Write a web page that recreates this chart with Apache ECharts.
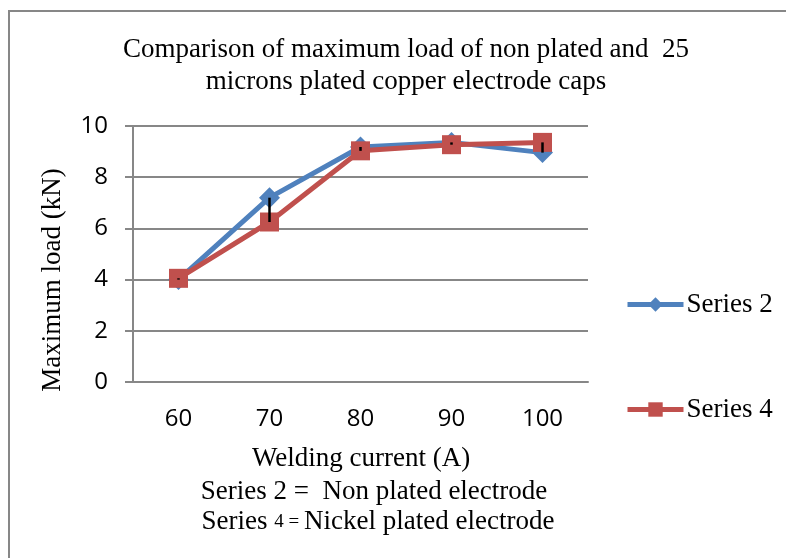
<!DOCTYPE html>
<html>
<head>
<meta charset="utf-8">
<script src="https://cdn.jsdelivr.net/npm/echarts@6/dist/echarts.min.js"></script>
<style>html,body{margin:0;padding:0;background:#fff;}#c{width:786px;height:558px;}</style>
</head>
<body>
<div id="c"></div>
<script>
const categories = ['60', '70', '80', '90', '100'];
const series2 = [4.0, 7.2, 9.18, 9.36, 8.96];
const series4 = [4.05, 6.25, 9.03, 9.27, 9.36];
const yTicks = [0, 2, 4, 6, 8, 10];

const chart = echarts.init(document.getElementById('c'));
const serif = 'Liberation Serif';
const sans = 'Open Sans';
const hiLo = categories.map((c, i) => [i, Math.min(series2[i], series4[i]), Math.max(series2[i], series4[i])]);

const legendCommon = {
  orient: 'vertical', itemWidth: 56, itemHeight: 18, itemGap: 4,
  lineStyle: { width: 5 },
  textStyle: { fontFamily: serif, fontSize: 27, color: '#000', padding: [0, 0, 0, -2] }
};

chart.setOption({
  animation: false,
  backgroundColor: '#fff',
  title: {
    text: 'Comparison of maximum load of non plated and  25\nmicrons plated copper electrode caps',
    left: 401, top: 29, textAlign: 'center',
    textStyle: { fontFamily: serif, fontSize: 27, fontWeight: 'normal', color: '#000', lineHeight: 32 }
  },
  legend: [
    Object.assign({ data: ['Series 2'], left: 620, top: 286 }, legendCommon),
    Object.assign({ data: ['Series 4'], left: 620, top: 391 }, legendCommon)
  ],
  grid: { left: 133, right: 198, top: 126, bottom: 176, containLabel: false },
  xAxis: {
    type: 'category', data: categories, boundaryGap: true,
    axisLine: { lineStyle: { color: '#878787', width: 2 } },
    axisTick: { show: false },
    axisLabel: { fontFamily: sans, fontSize: 24, color: '#000', margin: 25 }
  },
  yAxis: {
    type: 'value', min: 0, max: 10, interval: 2,
    axisLine: { show: true, lineStyle: { color: '#878787', width: 2 } },
    axisTick: { show: true, length: 8, lineStyle: { color: '#878787', width: 2 } },
    axisLabel: { fontFamily: sans, fontSize: 24, color: '#000', margin: 25,
      formatter: v => yTicks.includes(v) ? String(v) : '' },
    splitLine: { lineStyle: { color: '#878787', width: 2 } }
  },
  graphic: [
    { type: 'rect', shape: { x: 9, y: 11, width: 900, height: 700 }, style: { fill: 'none', stroke: '#878787', lineWidth: 2 }, z: -10 },
    { type: 'text', x: 53, y: 280, rotation: Math.PI / 2,
      style: { text: 'Maximum load (kN)', x: 0, y: 0, textAlign: 'center', textVerticalAlign: 'middle', fontFamily: serif, fontSize: 27, fill: '#000' } },
    { type: 'text', style: { text: 'Welding current (A)', x: 361, y: 459, textAlign: 'center', textVerticalAlign: 'middle', fontFamily: serif, fontSize: 27, fill: '#000' } },
    { type: 'text', style: { text: 'Series 2 =  Non plated electrode', x: 374, y: 492, textAlign: 'center', textVerticalAlign: 'middle', fontFamily: serif, fontSize: 27, fill: '#000' } },
    { type: 'text', style: {
        rich: {
          a: { fontFamily: serif, fontSize: 27, fill: '#000' },
          s: { fontFamily: serif, fontSize: 19, fill: '#000' }
        },
        text: '{a|Series }{s|4 = }{a|Nickel plated electrode}',
        x: 378, y: 522, textAlign: 'center', textVerticalAlign: 'middle' } }
  ],
  series: [
    { name: 'Series 2', type: 'line', data: series2, symbol: 'diamond', symbolSize: 21,
      itemStyle: { color: '#4F81BD' }, lineStyle: { color: '#4F81BD', width: 5 }, z: 2 },
    { name: 'Series 4', type: 'line', data: series4, symbol: 'rect', symbolSize: 19,
      itemStyle: { color: '#C0504D' }, lineStyle: { color: '#C0504D', width: 5 }, z: 3 },
    { name: 'hilo', type: 'custom', data: hiLo, z: 5,
      renderItem: (params, api) => {
        const p1 = api.coord([api.value(0), api.value(1)]);
        const p2 = api.coord([api.value(0), api.value(2)]);
        return { type: 'line', shape: { x1: p1[0], y1: p1[1], x2: p2[0], y2: p2[1] }, style: { stroke: '#000', lineWidth: 2.5 } };
      } }
  ]
});
</script>
</body>
</html>
